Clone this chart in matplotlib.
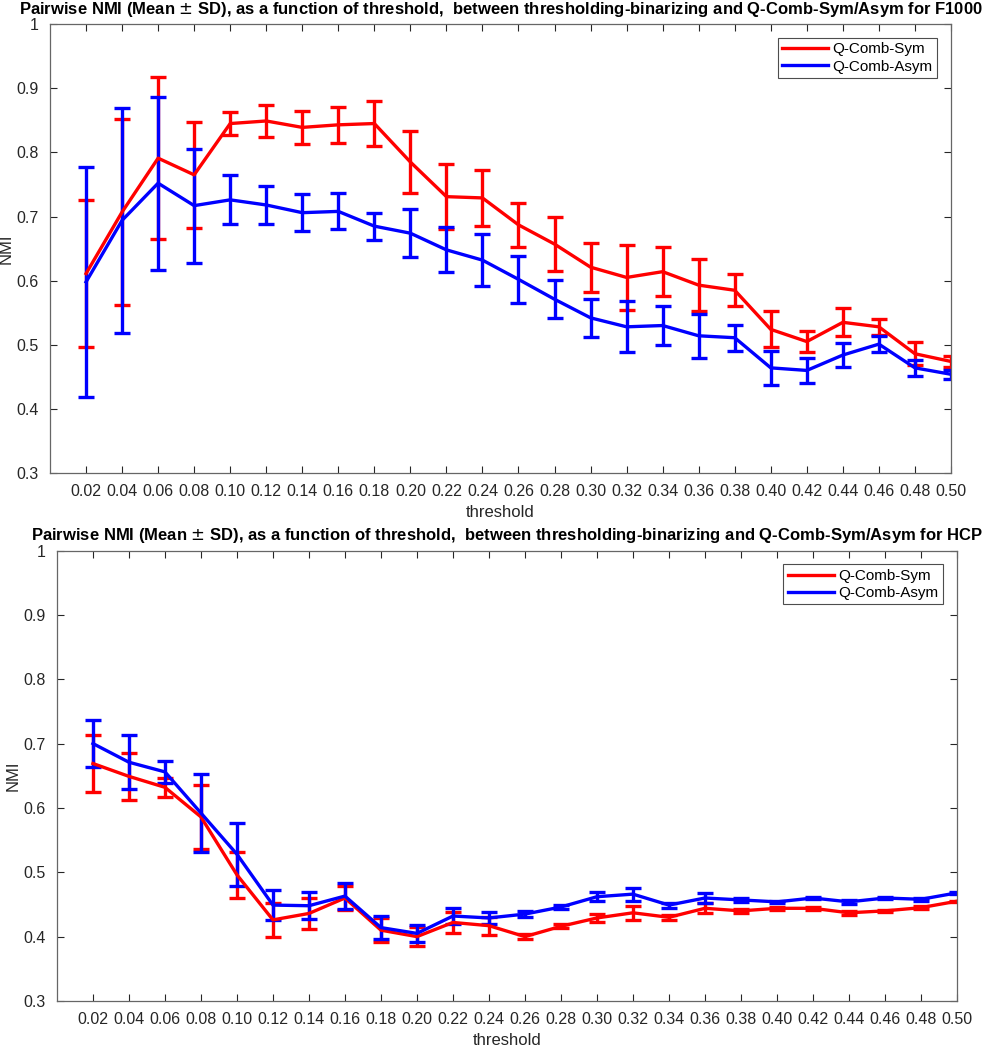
import matplotlib
matplotlib.use("Agg")
import matplotlib.pyplot as plt
from matplotlib.lines import Line2D

plt.rcParams['font.family'] = ['Liberation Sans', 'DejaVu Sans']

# threshold labels
thr_labels = ['0.02', '0.04', '0.06', '0.08', '0.10', '0.12', '0.14', '0.16', '0.18', '0.20',
              '0.22', '0.24', '0.26', '0.28', '0.30', '0.32', '0.34', '0.36', '0.38', '0.40',
              '0.42', '0.44', '0.46', '0.48', '0.50']
thr = [float(t) for t in thr_labels]

# F1000
f1000_sym_mean = [0.611, 0.707, 0.791, 0.765, 0.845, 0.849, 0.839, 0.843, 0.845, 0.785,
                  0.731, 0.729, 0.687, 0.657, 0.621, 0.605, 0.614, 0.593, 0.585, 0.524,
                  0.505, 0.535, 0.528, 0.486, 0.474]
f1000_sym_sd = [0.115, 0.145, 0.126, 0.083, 0.018, 0.025, 0.026, 0.028, 0.035, 0.049,
                0.051, 0.043, 0.034, 0.042, 0.038, 0.050, 0.038, 0.040, 0.025, 0.028,
                0.017, 0.022, 0.012, 0.018, 0.008]
f1000_asym_mean = [0.598, 0.694, 0.752, 0.717, 0.726, 0.718, 0.706, 0.708, 0.685, 0.674,
                   0.648, 0.632, 0.602, 0.571, 0.542, 0.528, 0.530, 0.514, 0.511, 0.464,
                   0.460, 0.484, 0.501, 0.464, 0.454]
f1000_asym_sd = [0.180, 0.175, 0.135, 0.089, 0.038, 0.030, 0.029, 0.028, 0.021, 0.037,
                 0.035, 0.040, 0.037, 0.030, 0.030, 0.040, 0.030, 0.034, 0.020, 0.027,
                 0.019, 0.019, 0.012, 0.013, 0.007]

# HCP
hcp_sym_mean = [0.669, 0.649, 0.632, 0.586, 0.496, 0.426, 0.436, 0.460, 0.410, 0.400,
                0.422, 0.417, 0.400, 0.416, 0.429, 0.437, 0.430, 0.444, 0.440, 0.444,
                0.444, 0.437, 0.440, 0.445, 0.455]
hcp_sym_sd = [0.045, 0.036, 0.015, 0.050, 0.036, 0.027, 0.024, 0.018, 0.019, 0.015,
              0.016, 0.014, 0.004, 0.003, 0.006, 0.011, 0.004, 0.008, 0.003, 0.002,
              0.002, 0.003, 0.001, 0.002, 0.001]
hcp_asym_mean = [0.700, 0.671, 0.656, 0.592, 0.528, 0.449, 0.448, 0.463, 0.414, 0.405,
                 0.432, 0.429, 0.435, 0.446, 0.462, 0.466, 0.449, 0.460, 0.457, 0.454,
                 0.460, 0.454, 0.460, 0.458, 0.468]
hcp_asym_sd = [0.036, 0.042, 0.017, 0.061, 0.049, 0.023, 0.021, 0.020, 0.018, 0.013,
               0.013, 0.010, 0.005, 0.003, 0.007, 0.010, 0.004, 0.008, 0.003, 0.002,
               0.002, 0.003, 0.001, 0.002, 0.001]

yticks = [0.3, 0.4, 0.5, 0.6, 0.7, 0.8, 0.9, 1.0]
ytick_labels = ['0.3', '0.4', '0.5', '0.6', '0.7', '0.8', '0.9', '1']

fig = plt.figure(figsize=(9.94, 10.5), dpi=100)
ax_top = fig.add_axes([0.0503, 0.5495, 0.9064, 0.4275])
ax_bot = fig.add_axes([0.0573, 0.0467, 0.9054, 0.4290])

panels = [
    (ax_top, f1000_sym_mean, f1000_sym_sd, f1000_asym_mean, f1000_asym_sd, 'F1000'),
    (ax_bot, hcp_sym_mean, hcp_sym_sd, hcp_asym_mean, hcp_asym_sd, 'HCP'),
]

for ax, s_mean, s_sd, a_mean, a_sd, name in panels:
    ax.errorbar(thr, s_mean, yerr=s_sd, color='red', linewidth=2.4, elinewidth=2.4,
                capsize=6, capthick=2.4)
    ax.errorbar(thr, a_mean, yerr=a_sd, color='blue', linewidth=2.4, elinewidth=2.4,
                capsize=6, capthick=2.4)

    ax.set_xlim(0, 0.5)
    ax.set_ylim(0.3, 1.0)
    ax.set_xticks(thr)
    ax.set_xticklabels(thr_labels)
    ax.set_yticks(yticks)
    ax.set_yticklabels(ytick_labels)
    ax.tick_params(direction='in', top=True, right=True, length=5, width=0.8,
                   labelsize=11.5, colors='0.15', pad=8)
    for sp in ax.spines.values():
        sp.set_color('0.4')
        sp.set_linewidth(0.9)

    ax.set_xlabel('threshold', fontsize=12, color='0.15', labelpad=4)
    ax.set_ylabel('NMI', fontsize=12, color='0.15', labelpad=2)
    ax.set_title('Pairwise NMI (Mean $\\pm$ SD), as a function of threshold,  between '
                 'thresholding-binarizing and Q-Comb-Sym/Asym for ' + name,
                 fontsize=12, fontweight='bold', pad=7.5)

    # plain line handles like the original legend
    handles = [Line2D([], [], color='red', linewidth=2.4),
               Line2D([], [], color='blue', linewidth=2.4)]
    leg = ax.legend(handles, ['Q-Comb-Sym', 'Q-Comb-Asym'], loc='upper right',
                    fontsize=11, fancybox=False, framealpha=1, edgecolor='0.3',
                    handlelength=3.0, borderaxespad=0.9, handletextpad=0.3,
                    labelspacing=0.2, borderpad=0.3)
    leg.get_frame().set_linewidth(0.8)

plt.savefig('out.png', dpi=100)
plt.close()
